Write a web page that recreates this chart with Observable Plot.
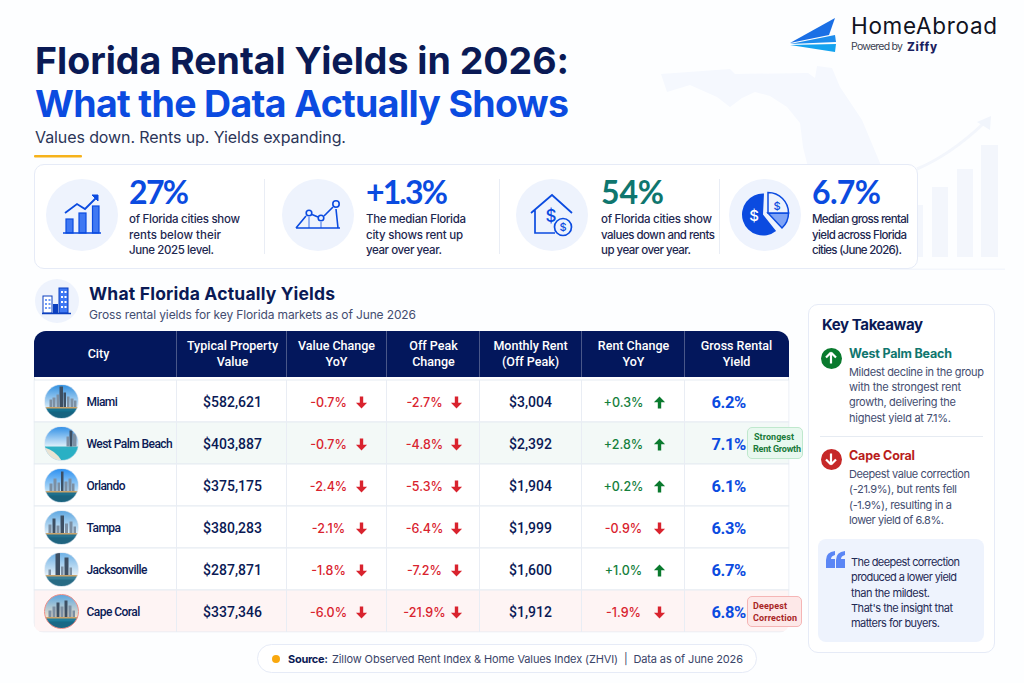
<!DOCTYPE html>
<html><head><meta charset="utf-8">
<script src="https://cdn.jsdelivr.net/npm/d3@7"></script>
<script src="https://cdn.jsdelivr.net/npm/@observablehq/plot@0.6"></script>
<style>
html,body{margin:0;padding:0;width:1024px;height:683px;overflow:hidden;background:#fdfeff;font-family:Inter,sans-serif;}
#page{position:absolute;left:0;top:0;width:1024px;height:683px;overflow:hidden;}
.t{position:absolute;white-space:pre;line-height:20px;height:20px;}
.box{position:absolute;box-sizing:border-box;}
svg.deco{position:absolute;left:0;top:0;}
#chart{position:absolute;left:0;top:0;}
#chart svg{display:block;background:transparent;clip-path:inset(331px 234.5px 50.5px 33.5px round 0 0 10px 10px);}
.cityname text{letter-spacing:-.55px;}
.yieldval text{letter-spacing:-.4px;}
</style></head><body><div id="page"></div>
<script>
// ---- data ----
const cities = ["Miami","West Palm Beach","Orlando","Tampa","Jacksonville","Cape Coral"];
const propertyValue = [582621,403887,375175,380283,287871,337346];
const valueChange = [-0.7,-0.7,-2.4,-2.1,-1.8,-6.0];
const offPeakChange = [-2.7,-4.8,-5.3,-6.4,-7.2,-21.9];
const monthlyRent = [3004,2392,1904,1999,1600,1912];
const rentChange = [0.3,2.8,0.2,-0.9,1.0,-1.9];
const grossYield = [6.2,7.1,6.1,6.3,6.7,6.8];
const headers = ["City","Typical Property\nValue","Value Change\nYoY","Off Peak\nChange","Monthly Rent\n(Off Peak)","Rent Change\nYoY","Gross Rental\nYield"];
const kpiValues = ["27%","+1.3%","54%","6.7%"];
const kpiTexts = [
 ["of Florida cities show","rents below their","June 2025 level."],
 ["The median Florida","city shows rent up","year over year."],
 ["of Florida cities show","values down and rents","up year over year."],
 ["Median gross rental","yield across Florida","cities (June 2026)."]];
const takeawayWest = ["Mildest decline in the group","with the strongest rent","growth, delivering the","highest yield at 7.1%."];
const takeawayCape = ["Deepest value correction","(-21.9%), but rents fell","(-1.9%), resulting in a","lower yield of 6.8%."];
const quoteLines = ["The deepest correction","produced a lower yield","than the mildest.","That's the insight that","matters for buyers."];

// ---- layout & style ----
const page = document.getElementById("page");
const NAVY="#0a1a55", BLUE="#0b4be0", TEAL="#0f766e", RED="#d9232e", GREEN="#0a7a2e", BODY="#1d2750", MUTED="#434d70";
function box(x,y,w,h,css){const d=document.createElement("div");d.className="box";
 d.style.cssText=`left:${x}px;top:${y}px;width:${w}px;height:${h}px;${css||""}`;page.appendChild(d);return d;}
function T(s,x,y,css,fit){const d=document.createElement("div");d.className="t";d.textContent=s;
 d.style.cssText=`left:${x}px;top:${y-10}px;${css||""}`;page.appendChild(d);
 if(fit){const w=d.getBoundingClientRect().width;d.style.letterSpacing=((fit-w)/(s.length-1)).toFixed(3)+"px";}
 return d;}

// background decoration + icons
const arc=d3.arc();
const icons=`
<svg class="deco" width="1024" height="683" viewBox="0 0 1024 683" xmlns="http://www.w3.org/2000/svg">
 <path fill="#f5f8fe" d="M661 74L730 69L735 74L808 73L815 78L817 66L832 68L840 87L862 120L880 163L885 200H815L807 163L803 147L800 123L787 107L770 96L755 92L742 98L730 107L717 97L690 85L667 92Z"/>
 <g fill="#f3f6fc">
  <rect x="907" y="205" width="16" height="52"/><rect x="932" y="187" width="16" height="70"/><rect x="957" y="169" width="16" height="88"/><rect x="981" y="145" width="17" height="112"/>
  <rect x="890" y="268.500" width="115" height="1.500"/>
 </g>
 <path d="M917 169Q950 155 983 124" fill="none" stroke="#f3f6fc" stroke-width="3"/><path d="M977 122L991 116L990 130Z" fill="#f1f5fc"/>
 <!-- logo -->
 <path d="M790 43L835 18L829 35Z" fill="#1a6fe5"/><path d="M790 44L835 35L836 42Z" fill="#1d8cec"/><path d="M790 45L836 44L835 52Z" fill="#14a3ef"/>
 <rect x="34" y="155" width="48" height="2.4" fill="#f6b21b" rx="1"/>
 <g fill="#eef3fd"><circle cx="82" cy="215" r="36"/><circle cx="318" cy="215" r="36"/><circle cx="552" cy="215" r="36"/><circle cx="765" cy="215" r="36"/><circle cx="57" cy="301" r="22"/></g>
 <!-- kpi 1 -->
 <g><g fill="#3f78f3" stroke="#0b4be0" stroke-width="1.2"><rect x="66" y="219" width="7" height="14"/><rect x="79" y="213" width="7" height="20"/><rect x="92.5" y="206" width="6.5" height="27"/></g>
 <path d="M63 233H101" stroke="#0b4be0" stroke-width="1.6"/><path d="M65 213L77 204L85 209L97 197" fill="none" stroke="#0b4be0" stroke-width="1.8"/><path d="M92 195L98 195L98 201Z" fill="#0b4be0" stroke="#0b4be0"/></g>
 <!-- kpi 2 -->
 <g fill="none" stroke="#0b4be0" stroke-width="1.6"><path d="M296 228H340M296 228L306 216M312 214.500L318 217M324 216L333 207M336 209L338 228"/><path d="M309 217V228M321 222V228" stroke-width="0.8"/><circle cx="309" cy="213" r="2.800"/><circle cx="321" cy="218" r="2.800"/><circle cx="336" cy="204" r="3.200"/></g>
 <!-- kpi 3 -->
 <g fill="none" stroke="#0b4be0" stroke-width="1.7"><path d="M531 213L552 195L572 213M535 210V233H555"/><circle cx="563" cy="227" r="8.500" fill="#eef3fd"/></g>
 <g fill="#0b4be0" font-family="Inter" font-weight="500" text-anchor="middle"><text x="551" y="222" font-size="17">$</text><text x="563" y="231" font-size="11">$</text></g>
 <!-- kpi 4 -->
 <path transform="translate(763,214.500)" d="${arc({innerRadius:0,outerRadius:21,startAngle:2.47,endAngle:6.33})}" fill="#0b4be0"/>
 <path transform="translate(768,213)" d="${arc({innerRadius:0,outerRadius:20.500,startAngle:1.57,endAngle:2.39})}" fill="#7fa4f6" stroke="#0b4be0" stroke-width="1.500"/>
 <path transform="translate(768,213)" d="${arc({innerRadius:0,outerRadius:20.500,startAngle:0,endAngle:1.57})}" fill="#eef3fd" stroke="#0b4be0" stroke-width="1.500"/>
 <g font-family="Inter" font-weight="500" text-anchor="middle"><text x="754" y="221" font-size="15" fill="#fff">$</text><text x="777" y="210" font-size="11" fill="#0b4be0">$</text></g>
 <!-- section icon -->
 <g><rect x="43" y="296" width="9" height="17" fill="#fff" stroke="#0b3fbf"/><rect x="59" y="288" width="9" height="25" fill="#3f78f3" stroke="#0b3fbf"/><rect x="53" y="304" width="5" height="9" fill="#0b3fbf"/><path d="M42 313.500H71" stroke="#0b3fbf" stroke-width="1.500"/>
  <g fill="#6f9bf7"><rect x="45" y="299" width="2" height="2"/><rect x="48.500" y="299" width="2" height="2"/><rect x="45" y="303" width="2" height="2"/><rect x="48.500" y="303" width="2" height="2"/><rect x="45" y="307" width="2" height="2"/><rect x="48.500" y="307" width="2" height="2"/></g>
  <g fill="#fff"><rect x="61" y="291" width="2" height="2"/><rect x="64.500" y="291" width="2" height="2"/><rect x="61" y="296" width="2" height="2"/><rect x="64.500" y="296" width="2" height="2"/><rect x="61" y="301" width="2" height="2"/><rect x="64.500" y="301" width="2" height="2"/><rect x="61" y="306" width="2" height="2"/><rect x="64.500" y="306" width="2" height="2"/></g></g>
</svg>`;

page.insertAdjacentHTML("beforeend",icons.replace(/<g fill="#eef3fd">[\s\S]*$/,"</svg>"));
// cards above the watermark
box(34,164,884,105,"background:#fff;border:1px solid #e6ebf7;border-radius:10px;");
page.insertAdjacentHTML("beforeend",`<svg class="deco" width="1024" height="683" viewBox="0 0 1024 683" xmlns="http://www.w3.org/2000/svg">`+icons.slice(icons.indexOf('<g fill="#eef3fd">')));
[264,499,719].forEach(x=>box(x,179,1,75,"background:#e9edf5;"));

// heading
T("HomeAbroad",851,26,`font:400 22.5px Inter;color:#11131f;line-height:20px;`,146);
T("Powered by",851,47,`font:400 10.5px Inter;color:#3a4150;line-height:20px;`,52);
T("Ziffy",907,47,`font:800 11.5px Inter;color:#1a2060;line-height:20px;`,30);
T("Florida Rental Yields in 2026:",35,61,`font:700 37.5px Inter;color:${NAVY};line-height:20px;`,534);
T("What the Data Actually Shows",35,104,`font:700 37.5px Inter;color:${BLUE};line-height:20px;`,534);
T("Values down. Rents up. Yields expanding.",35,137,`font:400 16px Inter;color:#2b3558;line-height:20px;`,311);

// KPI text
const kpiX=[129,366,601,812], kpiColor=[BLUE,BLUE,TEAL,BLUE], kpiFit=[[111,92,85],[100,97,76],[111,114,90],[97,95,90]], kpiVFit=[60,82,63,69];
kpiValues.forEach((v,i)=>{T(v,kpiX[i],192,`font:700 32px Lato;color:${kpiColor[i]};line-height:20px;`,kpiVFit[i]);
 kpiTexts[i].forEach((s,j)=>T(s,kpiX[i],219+j*15.6,`font:500 11.5px Inter;color:${BODY};line-height:20px;`,kpiFit[i][j]));});

// section
T("What Florida Actually Yields",89,294,`font:700 17.5px Inter;color:${NAVY};line-height:20px;`,246);
T("Gross rental yields for key Florida markets as of June 2026",89,315,`font:400 12px Inter;color:${MUTED};line-height:20px;`,327);

// table chrome
box(34,331,755,301,"background:#fff;border:1px solid #e3e8f2;border-radius:12px 12px 10px 10px;");
const head=box(34,331,755,46,"background:#03175c;border-radius:12px 12px 0 0;");
[176,286,386,479,581,684].forEach(x=>{const d=document.createElement("div");d.style.cssText=`position:absolute;left:${x-34}px;top:0;width:1px;height:46px;background:rgba(255,255,255,.28)`;head.appendChild(d);});

// table via Plot
const cols=[{c:98},{c:232},{c:336},{c:433},{c:530},{c:633},{c:736}];
const rows=cities.map((city,i)=>({city,pv:propertyValue[i],vc:valueChange[i],op:offPeakChange[i],mr:monthlyRent[i],rc:rentChange[i],gy:grossYield[i]}));
const fmtPct=v=>(v>0?"+":"")+v.toFixed(1)+"%";
const fmtMoney=d3.format("$,");
const sym=up=>({draw(ctx,size){const s=Math.sqrt(size)/2;const d=up?-1:1;
  ctx.moveTo(0,d*s*1.15);ctx.lineTo(s*1.05,d*s*0.05);ctx.lineTo(s*0.32,d*s*0.05);ctx.lineTo(s*0.32,-d*s*1.15);ctx.lineTo(-s*0.32,-d*s*1.15);ctx.lineTo(-s*0.32,d*s*0.05);ctx.lineTo(-s*1.05,d*s*0.05);ctx.closePath();}});
const edges=[176,286,386,479,581,684];
const rowFill=d=>d.city==="West Palm Beach"?"#f3f9f7":d.city==="Cape Coral"?"#fef4f4":"#ffffff";
const signColor=v=>v<0?RED:"#15803d";
const arrowSet=[{k:"vc",x:361,tx:328},{k:"op",x:456,tx:424},{k:"rc",x:659,tx:623}];
const sky={ "Miami":["#2f8fe0","#d5e9f7","#15708f",[[10,5,16],[16,6,20],[24,5,26],[30,7,42],[38,5,30],[45,5,22],[52,6,18],[59,5,14]]],
 "West Palm Beach":["#2f8fe6","#dff0fa","#2fb0c4",[[44,5,20],[50,6,32],[57,7,26]]],
 "Orlando":["#2a8ff0","#bfe2f8","#1f6f8c",[[10,6,16],[18,6,26],[26,5,18],[33,5,40],[40,6,20],[48,6,26],[55,5,16]]],
 "Tampa":["#5ca6e0","#dbeefa","#28718f",[[8,6,18],[16,6,30],[24,6,16],[32,7,36],[41,6,20],[50,6,24],[58,5,14]]],
 "Jacksonville":["#6bb0e6","#e3eff7","#3a7f98",[[8,5,12],[22,9,46],[33,5,18],[40,8,36],[50,5,16]]],
 "Cape Coral":["#5aa5de","#f1e3cc","#1f7c9c",[[8,6,14],[16,6,22],[24,6,30],[32,6,22],[40,6,34],[48,6,24],[56,5,14]]]};
const avatar=c=>{const [a,b,w,bs]=sky[c];const hz=c==="West Palm Beach"?40:46;
 const blds=bs.map(([x,wd,h])=>`<rect x="${x}" y="${hz-h}" width="${wd}" height="${h}" fill="${h>=30?"#3d4f63":"#7c8fa3"}"/>`).join("");
 const beach=c==="West Palm Beach"?`<path d="M0 40Q30 50 68 42V68H0Z" fill="#2cb0c4"/><path d="M0 42Q22 48 34 68H0Z" fill="#e9e3d3"/>`:`<rect y="${hz-1}" width="68" height="3" fill="#c9a36a"/><rect y="${hz+8}" width="68" height="14" fill="#0f5670" opacity=".5"/>`;
 const s=`<svg xmlns="http://www.w3.org/2000/svg" width="68" height="68" viewBox="0 0 68 68"><defs><linearGradient id="g" x1="0" y1="0" x2="0" y2="1"><stop offset="0" stop-color="${a}"/><stop offset="1" stop-color="${b}"/></linearGradient><filter id="b"><feGaussianBlur stdDeviation="0.7"/></filter></defs><rect width="68" height="${hz}" fill="url(#g)"/><rect y="${hz}" width="68" height="${68-hz}" fill="${w}"/><g filter="url(#b)">${blds}${beach}</g></svg>`;
 return "data:image/svg+xml;charset=utf-8,"+encodeURIComponent(s);};

const yDomain=["Header",...cities];
const chart=Plot.plot({
 width:1024,height:683,margin:0,
 x:{domain:[0,1024],range:[0,1024],axis:null},
 y:{type:"band",domain:yDomain,range:[338,632],padding:0,axis:null},
 style:{background:"transparent",fontFamily:"Inter"},
 marks:[
  Plot.barX(rows,{x1:()=>34,x2:()=>789,y:"city",fill:rowFill,stroke:"#e6ebf2",strokeWidth:1}),
  Plot.tickX(d3.cross(rows,edges),{x:d=>d[1],y:d=>d[0].city,stroke:"#e9edf4",strokeWidth:1}),
  // header
  Plot.text(headers,{x:(d,i)=>cols[i].c,y:()=>"Header",text:d=>d,fill:"#fff",fontSize:12.5,fontFamily:"Roboto",fontWeight:500,lineHeight:1.28,dy:-6.5}),
  // avatars
  Plot.image(rows,{x:()=>61,y:"city",src:d=>avatar(d.city),r:17}),
  Plot.dot(rows.filter(d=>d.city==="Cape Coral"),{x:()=>61,y:"city",r:17,stroke:"#ee8e88",strokeWidth:1}),
  Plot.dot(rows.filter(d=>d.city!=="Cape Coral"),{x:()=>61,y:"city",r:17,stroke:"#dbe4f0",strokeWidth:.6}),
  // city, value, rent
  Plot.text(rows,{x:()=>86,y:"city",text:"city",textAnchor:"start",fill:NAVY,fontSize:12,fontWeight:500,fontFamily:"Roboto",dy:0.5,className:"cityname"}),
  Plot.text(rows,{x:()=>232,y:"city",text:d=>fmtMoney(d.pv),fill:NAVY,fontSize:14,fontWeight:500,fontFamily:"Roboto",dy:1}),
  Plot.text(rows,{x:()=>530,y:"city",text:d=>fmtMoney(d.mr),fill:NAVY,fontSize:14,fontWeight:500,fontFamily:"Roboto",dy:1}),
  // percent columns with arrows
  ...arrowSet.flatMap(({k,x,tx})=>[
    Plot.text(rows,{x:()=>tx,y:"city",text:d=>fmtPct(d[k]),fill:d=>signColor(d[k]),fontSize:12.5,fontWeight:500,dy:1}),
    Plot.dot(rows.filter(d=>d[k]<0),{x:()=>x,y:"city",symbol:sym(false),r:6,fill:RED,stroke:"none",dy:1}),
    Plot.dot(rows.filter(d=>d[k]>=0),{x:()=>x,y:"city",symbol:sym(true),r:6,fill:GREEN,stroke:"none",dy:1})
  ]),
  Plot.text(rows,{x:()=>711,y:"city",text:d=>d.gy.toFixed(1)+"%",textAnchor:"start",fill:BLUE,fontSize:16.5,fontWeight:700,fontFamily:"Roboto",dy:1,className:"yieldval"})
 ]});
const host=document.createElement("div");host.id="chart";host.appendChild(chart);page.appendChild(host);

// pills
box(747,427,56,32,"background:#e8f8ef;border:1px solid #bfe8cd;border-radius:5px;");
T("Strongest",754,437,"font:700 9px Roboto;color:#1a7a3a;line-height:20px;",40);
T("Rent Growth",753,449,"font:700 9px Roboto;color:#1a7a3a;line-height:20px;",48);
box(747,596,55,31,"background:#fde8e8;border:1px solid #f5b5b5;border-radius:5px;");
T("Deepest",753,605.500,"font:700 9px Roboto;color:#a82525;line-height:20px;",34);
T("Correction",753,618,"font:700 9px Roboto;color:#a82525;line-height:20px;",44);

// source
box(257,644,500,29,"background:#fff;border:1px solid #e6ebf7;border-radius:15px;");
box(272,655,8,8,"background:#f9a80e;border-radius:50%;");
T("Source:",288,659,`font:700 11px Inter;color:${NAVY};line-height:20px;`,40);
T("Zillow Observed Rent Index & Home Values Index (ZHVI)  |  Data as of June 2026",332,659,`font:400 11px Inter;color:#3a4468;line-height:20px;`,411);

// key takeaway
box(808,304,187,349,"background:#fff;border:1px solid #e6ebf7;border-radius:10px;");
T("Key Takeaway",822,325,`font:700 15px Inter;color:${NAVY};line-height:20px;`,101);
box(820.5,347.5,21,21,`background:${GREEN};border-radius:50%;`);
box(820.5,448.5,21,21,"background:#c62828;border-radius:50%;");
const smallArrow=(cy,up)=>`<svg class="deco" width="1024" height="683" style="pointer-events:none"><path transform="translate(831,${cy}) scale(1,${up?1:-1})" d="M0 -5.500L5 -.5M0 -5.500L-5 -.5M0 -5.500V5.500" fill="none" stroke="#fff" stroke-width="2.200"/></svg>`;
page.insertAdjacentHTML("beforeend",smallArrow(358,true)+smallArrow(459,false));
T("West Palm Beach",849,354,`font:700 12.500px Inter;color:${TEAL};line-height:20px;`,103);
takeawayWest.forEach((s,i)=>T(s,849,371.5+i*15.4,`font:400 11px Inter;color:${MUTED};line-height:20px;`,[135,112,107,102][i]));
box(820,436,163,1,"background:#e6ebf2;");
T("Cape Coral",849,456,`font:700 12.500px Inter;color:#b91c1c;line-height:20px;`,66);
takeawayCape.forEach((s,i)=>T(s,849,474+i*15.4,`font:400 11px Inter;color:${MUTED};line-height:20px;`,[121,108,103,95][i]));
box(818,539,166,103,"background:#eef3fd;border-radius:8px;");
page.insertAdjacentHTML("beforeend",`<svg class="deco" width="1024" height="683"><g fill="#5b86f5"><path d="M826 568V560Q826 552 835 551V555Q831 556 831 559H835V568Z"/><path d="M836 568V560Q836 552 845 551V555Q841 556 841 559H845V568Z"/></g></svg>`);
quoteLines.forEach((s,i)=>T(s,851,562+i*15.25,`font:400 11px Inter;color:#1f2a55;line-height:20px;`,[109,106,79,102,89][i]));
</script></body></html>
